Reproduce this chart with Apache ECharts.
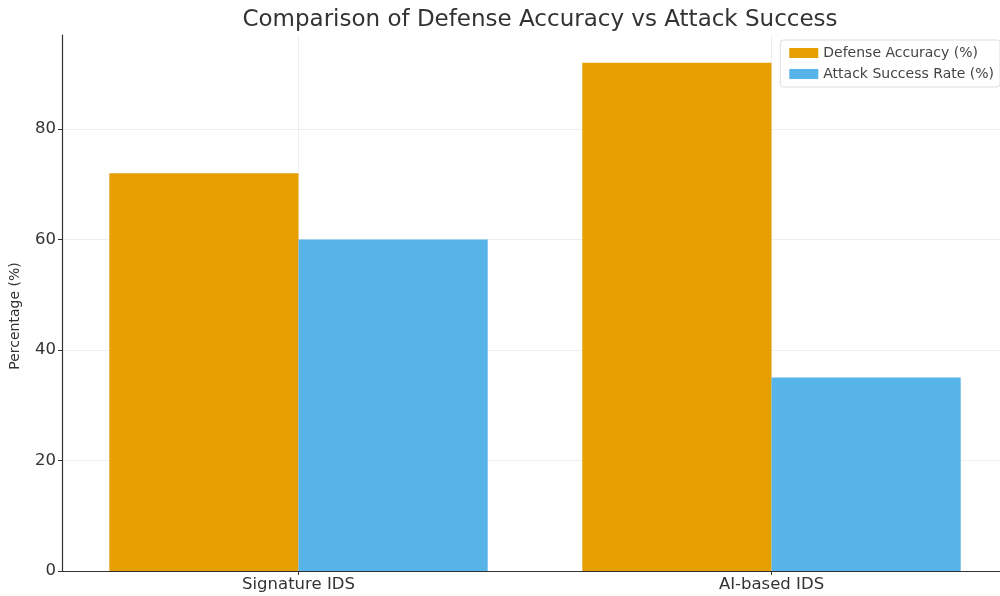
<!DOCTYPE html>
<html lang="en">

<head>
    <meta charset="UTF-8">
    <title>Defense Accuracy vs Attack Success</title>
    <script src="https://cdn.jsdelivr.net/npm/echarts@6/dist/echarts.min.js"></script>
    <style>
        html, body { margin: 0; padding: 0; background: #fff; overflow: hidden; }
        /* plot area runs past the right edge of the window, as in the original */
        #main { width: 1008px; height: 596px; }
    </style>
</head>

<body>
    <div id="main"></div>
    <script>
        var categories = ['Signature IDS', 'AI-based IDS'];
        var defenseAccuracy = [72, 92];
        var attackSuccess = [60, 35];
        var yTicks = [0, 20, 40, 60, 80];

        var font = 'DejaVu Sans';
        var myChart = echarts.init(document.getElementById('main'));

        myChart.setOption({
            animation: false,
            title: {
                text: 'Comparison of Defense Accuracy vs Attack Success',
                left: 535, top: 4, textAlign: 'center',
                textStyle: { fontFamily: font, fontSize: 23, fontWeight: 'normal', color: '#333' }
            },
            legend: {
                right: 8, top: 40, orient: 'vertical', itemGap: 7,
                itemWidth: 29, itemHeight: 10, padding: [6, 6, 6, 9],
                backgroundColor: 'rgba(255,255,255,0.8)', borderColor: '#ddd', borderWidth: 1, borderRadius: 3,
                icon: 'rect',
                textStyle: { fontFamily: font, fontSize: 14, color: '#444' }
            },
            grid: { left: 62, right: 0, top: 35, bottom: 25, containLabel: false },
            xAxis: {
                type: 'category', data: categories,
                axisLine: { lineStyle: { color: '#333', width: 1.2 } },
                axisTick: { show: true, alignWithLabel: true, length: 4, lineStyle: { color: '#333' } },
                axisLabel: { fontFamily: font, fontSize: 16.5, color: '#333', margin: 5 },
                splitLine: { show: true, alignWithLabel: true, lineStyle: { color: '#eee' } }
            },
            yAxis: {
                type: 'value', min: 0, max: 97, interval: 20,
                name: 'Percentage (%)', nameLocation: 'middle', nameGap: 40,
                nameTextStyle: { fontFamily: font, fontSize: 14, color: '#333', padding: [0, 26, 0, 0] },
                axisLine: { show: true, lineStyle: { color: '#333', width: 1.2 } },
                axisTick: { show: true, length: 4, customValues: yTicks, lineStyle: { color: '#333' } },
                axisLabel: {
                    fontFamily: font, fontSize: 16.5, color: '#333', margin: 6,
                    customValues: yTicks
                },
                splitLine: { show: true, lineStyle: { color: '#eee' } }
            },
            series: [
                {
                    name: 'Defense Accuracy (%)', type: 'bar', data: defenseAccuracy,
                    barWidth: '40%', barGap: '0%', itemStyle: { color: '#E69F00' }
                },
                {
                    name: 'Attack Success Rate (%)', type: 'bar', data: attackSuccess,
                    barWidth: '40%', barGap: '0%', itemStyle: { color: '#56B4E9' }
                }
            ]
        });
    </script>
</body>

</html>
